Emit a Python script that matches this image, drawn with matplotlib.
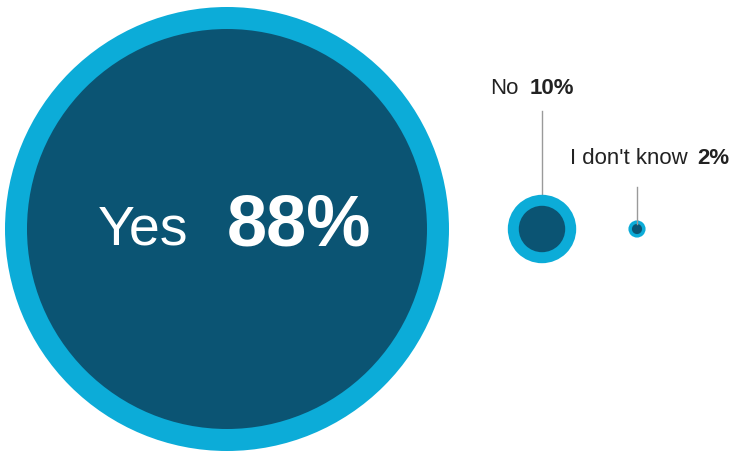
import matplotlib.pyplot as plt
from matplotlib.patches import Circle

# ======================
# DATA
# ======================
answers = ["Yes", "No", "I don't know"]
shares = [88, 10, 2]

# ======================
# STYLE / LAYOUT
# ======================
LIGHT = "#0cacd8"
DARK = "#0b5473"
TEXT = "#222222"
LINE = "#9a9a9a"
FONT = "Liberation Sans"

centers_x = [227, 542, 637]
center_y = 230
ring_width = [22, 11, 3.5]

def radius(v):
    # bubble radius in pixels, scaled from the largest answer
    return 222 * (v / max(shares)) ** 0.86

fig = plt.figure(figsize=(7.32, 4.52), dpi=100)
ax = fig.add_axes([0, 0, 1, 1])
ax.set_xlim(0, 732)
ax.set_ylim(452, 0)
ax.set_aspect("equal")
ax.axis("off")

for i, (lab, v) in enumerate(zip(answers, shares)):
    r = radius(v)
    cx = centers_x[i]
    ax.add_patch(Circle((cx, center_y), r, color=LIGHT, lw=0, zorder=2))
    ax.add_patch(Circle((cx, center_y), r - ring_width[i], color=DARK, lw=0, zorder=3))

# big bubble label inside
ax.text(98, 245, answers[0], color="white", fontsize=40, family=FONT,
        ha="left", va="baseline", zorder=5)
ax.text(227, 246, f"{shares[0]}%", color="white", fontsize=52, family=FONT,
        fontweight="bold", ha="left", va="baseline", zorder=5)

# small bubbles: label above with a leader line
label_y = [None, 94, 164]
line_top = [None, 112, 188]
label_x = [None, 490, 570]
pct_right = [None, 574, 729]
for i in (1, 2):
    cx = centers_x[i]
    r = radius(shares[i])
    ax.plot([cx, cx], [line_top[i], center_y - r + (0 if i == 1 else 4)],
            color=LINE, lw=1, zorder=4 if i == 2 else 1)
    ax.text(label_x[i], label_y[i], answers[i], color=TEXT, fontsize=16,
            family=FONT, ha="left", va="baseline")
    ax.text(pct_right[i], label_y[i], f"{shares[i]}%", color=TEXT, fontsize=16,
            family=FONT, fontweight="bold", ha="right", va="baseline")

fig.savefig("out.png", dpi=100, facecolor="white")
